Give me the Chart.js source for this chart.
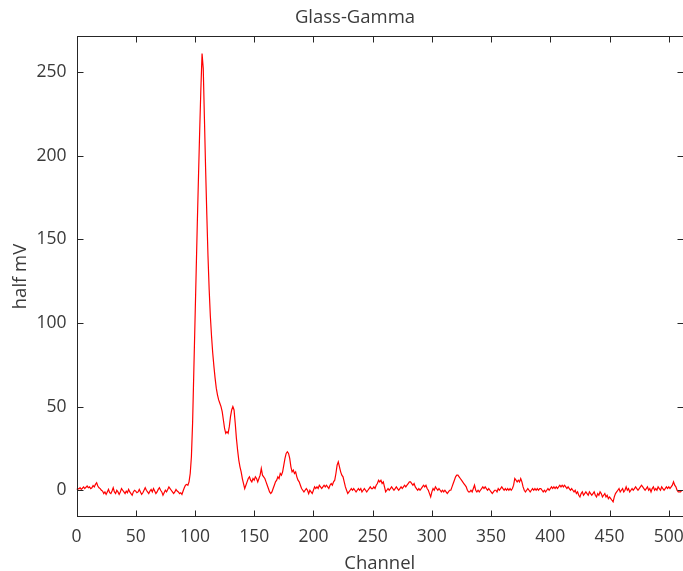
<!DOCTYPE html>
<html>
<head>
<meta charset="utf-8">
<script src="https://cdn.jsdelivr.net/npm/chart.js@4.4.1/dist/chart.umd.min.js"></script>
<style>
  html, body { margin: 0; padding: 0; background: #ffffff; }
  #wrap { width: 683px; height: 571px; position: relative; }
</style>
</head>
<body>
<div id="wrap"><canvas id="c" width="683" height="571"></canvas></div>
<script>
// Chart text
const chartTitle = 'Glass-Gamma';
const xTitle = 'Channel';
const yTitle = 'half mV';

// Tick labels
const xTicks = [0, 50, 100, 150, 200, 250, 300, 350, 400, 450, 500];
const yTicks = [0, 50, 100, 150, 200, 250];

// Signal values, one per channel (0..511)
const halfMV = [
  0.5, 1, 0.8, 1.5, 0.5, 1.2, 2, 1, 1.8, 2.5, 1.5, 2, 1, 1.5, 2.8, 2, 3.5, 4.5, 2.5, 1.5,
  1, 0, -0.5, -2, -1, -2.5, -1, 0.5, -1.5, -2, -0.5, 1.5, -1, -2, 0, -1, -2.5, -1, 1, 0,
  -1, -2, -0.5, -1.5, 0.5, -1, -2, -3, -1, 0, -0.5, -1.5, -1, 0.5, -1, -2.5, -1.5, 0, 1.5, 0,
  -1, -2, -0.5, 0.5, -1, 1, -0.5, -2, -1, 0.5, 1.5, 0, -1, -3, -1.5, 0, -1, 0.5, 2, 1,
  0, -1, -2, -1, 0.5, -0.5, -1, -2, -1.5, -2.5, -0.5, 1.5, 3, 3.5, 3, 5, 10, 20, 40, 70,
  100, 130, 160, 188, 215, 240, 261, 252, 222, 192, 165, 140, 120, 104, 92, 82, 74, 67, 61, 57,
  54, 52, 50, 47, 42, 37, 34, 35, 34, 38, 44, 48, 50, 48, 40, 31, 24, 18, 14, 11,
  7, 4, 1, 3, 5, 7, 8, 6, 5, 7, 6, 8, 7, 5, 7, 9, 13, 9, 8, 7,
  5, 3, 1, -1, -2, -1, 1, 3, 5, 6, 8, 7, 10, 9, 11, 15, 19, 22, 23, 22,
  19, 14, 11, 12, 10, 11, 8, 6, 5, 3, 1, 0, -1, 0, 1, 0, -2, 0, -1, -2,
  0, 2, 1, 2, 1, 3, 2, 1, 2, 3, 2, 3, 2, 1, 3, 4, 3, 5, 6, 10,
  15, 17, 14, 11, 9, 8, 5, 2, 0, -2, -1, 0, 1, 0, 1, 0, -1, 0, 1, 0,
  1, -1, 0, 1, 0, -1, 0, 1, 2, 1, 1, 2, 1, 3, 4, 6, 5, 6, 4, 5,
  2, -1, 0, 1, 0, 1, 2, 1, 0, 1, 2, 1, 0, 1, 2, 1, 2, 3, 2, 3,
  4, 5, 5, 4, 3, 4, 2, 1, 0, 1, 0, 1, 2, 3, 2, 3, 1, 0, -2, -4,
  -1, 1, 0, 2, 1, 0, 1, 0, -1, 0, -1, 0, -1, -2, -1, 0, 0, 2, 4, 6,
  8, 9, 9, 8, 7, 6, 5, 4, 3, 2, 0, -1, -1, 0, -1, 1, 3, 0, -1, 0,
  -1, 0, 1, 2, 1, 2, 1, 0, 1, 0, -1, -2, -1, 0, 0, -1, 1, 0, 1, 2,
  1, 0, 1, 0, 1, 0, 1, 0, 1, 3, 7, 6, 5, 6, 5, 7, 5, 2, 0, -1,
  0, 1, 0, -1, 0, 1, 0, 1, 0, 1, 0, 1, 1, 0, -1, 0, -1, 0, 1, 0,
  1, 2, 1, 2, 1, 2, 1, 2, 3, 2, 3, 2, 3, 2, 1, 2, 1, 0, 1, 0,
  -1, 0, -2, -1, -3, -4, -2, -1, -3, -2, -1, -2, -3, -1, -2, -3, -2, -1, -3, -4,
  -2, -3, -1, -2, -4, -3, -2, -4, -3, -5, -4, -5, -6, -7, -4, -2, -1, 0, 1, -1,
  0, 1, -1, 0, 2, 0, 1, -1, 0, 1, 0, 1, 2, 1, 0, 1, 2, 3, 2, 1,
  0, 1, 2, 0, 1, -1, 1, 2, 0, 1, 0, 2, 1, 0, 2, 1, 0, 1, 2, 1,
  2, 1, 2, 3, 5, 3, 2, 0, -1, -1, -1, 0
];

// Axis limits
const xMin = 0, xMax = 512;
const yMin = -16, yMax = 271.5;

const points = halfMV.map((v, i) => ({ x: i, y: v }));

const textColor = '#3a3a3a';
const axisColor = '#262626';
const fontFamily = "'Open Sans', 'Noto Sans', sans-serif";

const boxPlugin = {
  id: 'boxTicks',
  afterDraw(chart) {
    const { ctx, chartArea: a, scales: { x, y } } = chart;
    ctx.save();
    ctx.strokeStyle = axisColor;
    ctx.lineWidth = 1;
    const L = Math.round(a.left) + 0.5;
    const R = Math.round(a.right) + 0.5;
    const T = Math.round(a.top) + 0.5;
    const B = Math.round(a.bottom) - 0.5;
    ctx.strokeRect(L, T, R - L, B - T);
    const len = 6;
    ctx.beginPath();
    x.ticks.forEach(t => {
      const px = Math.round(x.getPixelForValue(t.value)) + 0.5;
      ctx.moveTo(px, B); ctx.lineTo(px, B - len);
      ctx.moveTo(px, T); ctx.lineTo(px, T + len);
    });
    y.ticks.forEach(t => {
      const py = Math.round(y.getPixelForValue(t.value)) + 0.5;
      ctx.moveTo(L, py); ctx.lineTo(L + len, py);
      ctx.moveTo(R, py); ctx.lineTo(R - len, py);
    });
    ctx.stroke();
    // title (MATLAB places it slightly right of the canvas centre)
    ctx.fillStyle = textColor;
    ctx.font = "18.5px 'Open Sans', 'Noto Sans', sans-serif";
    ctx.textAlign = 'center';
    ctx.textBaseline = 'middle';
    ctx.fillText(chartTitle, 355, 18);
    ctx.restore();
  }
};

new Chart(document.getElementById('c'), {
  type: 'line',
  data: {
    datasets: [{
      data: points,
      borderColor: '#ff0000',
      borderWidth: 1.2,
      pointRadius: 0,
      tension: 0,
      fill: false
    }]
  },
  options: {
    responsive: false,
    animation: false,
    layout: { padding: { left: 0, right: 0, top: 36, bottom: 0 } },
    plugins: {
      legend: { display: false },
      tooltip: { enabled: false },
      title: { display: false }
    },
    scales: {
      x: {
        type: 'linear',
        min: xMin,
        max: xMax,
        afterBuildTicks(scale) { scale.ticks = xTicks.map(v => ({ value: v })); },
        afterFit(scale) { scale.height = 54; scale.paddingLeft = 0; scale.paddingRight = 0; },
        grid: { display: false, drawTicks: false },
        border: { display: false },
        ticks: {
          includeBounds: false,
          color: textColor,
          padding: 10,
          maxRotation: 0,
          font: { family: fontFamily, size: 17.5 }
        },
        title: {
          display: true,
          text: xTitle,
          color: textColor,
          font: { family: fontFamily, size: 18.5 },
          padding: { top: 0, bottom: -4 }
        }
      },
      y: {
        type: 'linear',
        min: yMin,
        max: yMax,
        afterBuildTicks(scale) { scale.ticks = yTicks.map(v => ({ value: v })); },
        afterFit(scale) { scale.width = 76.5; scale.paddingTop = 0; scale.paddingBottom = 0; },
        grid: { display: false, drawTicks: false },
        border: { display: false },
        ticks: {
          includeBounds: false,
          color: textColor,
          padding: 10,
          font: { family: fontFamily, size: 17.5 }
        },
        title: {
          display: true,
          text: yTitle,
          color: textColor,
          font: { family: fontFamily, size: 18.5 },
          padding: { top: 10, bottom: 0 }
        }
      }
    }
  },
  plugins: [boxPlugin]
});
</script>
</body>
</html>
